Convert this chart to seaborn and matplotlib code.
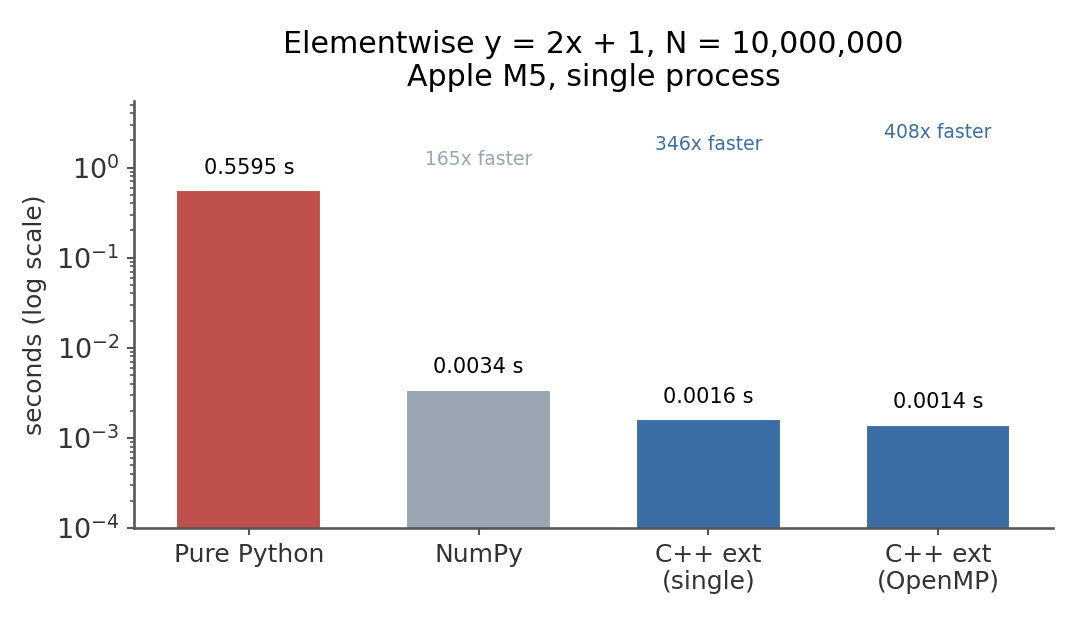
import pandas as pd
import seaborn as sns
import matplotlib.pyplot as plt

# benchmark timings (seconds)
methods = ["Pure Python", "NumPy", "C++ ext\n(single)", "C++ ext\n(OpenMP)"]
seconds = [0.5595, 0.0034, 0.0016, 0.0014]
speedups = ["", "165x faster", "346x faster", "408x faster"]
speedup_y = [None, 1.22, 1.8, 2.45]
colors = ["#bf504c", "#9aa6b2", "#3b6ea5", "#3b6ea5"]
speedup_colors = [None, "#9aa6b2", "#3b6ea5", "#3b6ea5"]

df = pd.DataFrame({"method": methods, "seconds": seconds})

sns.set_theme(style="ticks", context="notebook",
              rc={"axes.edgecolor": "#555555", "xtick.color": "#555555",
                  "ytick.color": "#555555", "axes.labelcolor": "#333333",
                  "xtick.major.size": 3.5, "ytick.major.size": 3.5,
                  "ytick.minor.size": 2, "xtick.major.width": 1,
                  "ytick.major.width": 1, "ytick.minor.width": 0.8})

fig, ax = plt.subplots(figsize=(7.2, 4.2), dpi=150)

sns.barplot(data=df, x="method", y="seconds", hue="method", palette=colors,
            width=0.63, legend=False, saturation=1, ax=ax)
ax.set_yscale("log")
ax.set_ylim(1e-4, 5.5)
ax.set_xlim(-0.5, 3.5)

# value labels above bars
for i, v in enumerate(seconds):
    ax.annotate(f"{v:.4f} s", (i, v), xytext=(0, 6), textcoords="offset points",
                ha="center", va="bottom", fontsize=10, color="black")

# speedup labels
for i, txt in enumerate(speedups):
    if txt:
        ax.text(i, speedup_y[i], txt, ha="center", va="center",
                fontsize=9, color=speedup_colors[i])

ax.set_title("Elementwise y = 2x + 1, N = 10,000,000\nApple M5, single process",
             fontsize=14.4, color="black", pad=7)
ax.set_xlabel("")
ax.set_ylabel("seconds (log scale)", fontsize=12)
ax.tick_params(axis="x", labelsize=12, labelcolor="#333333")
ax.tick_params(axis="y", labelsize=13, labelcolor="#333333")
sns.despine()

fig.subplots_adjust(left=0.124, right=0.975, top=0.84, bottom=0.162)
fig.savefig("out.png", dpi=150)
